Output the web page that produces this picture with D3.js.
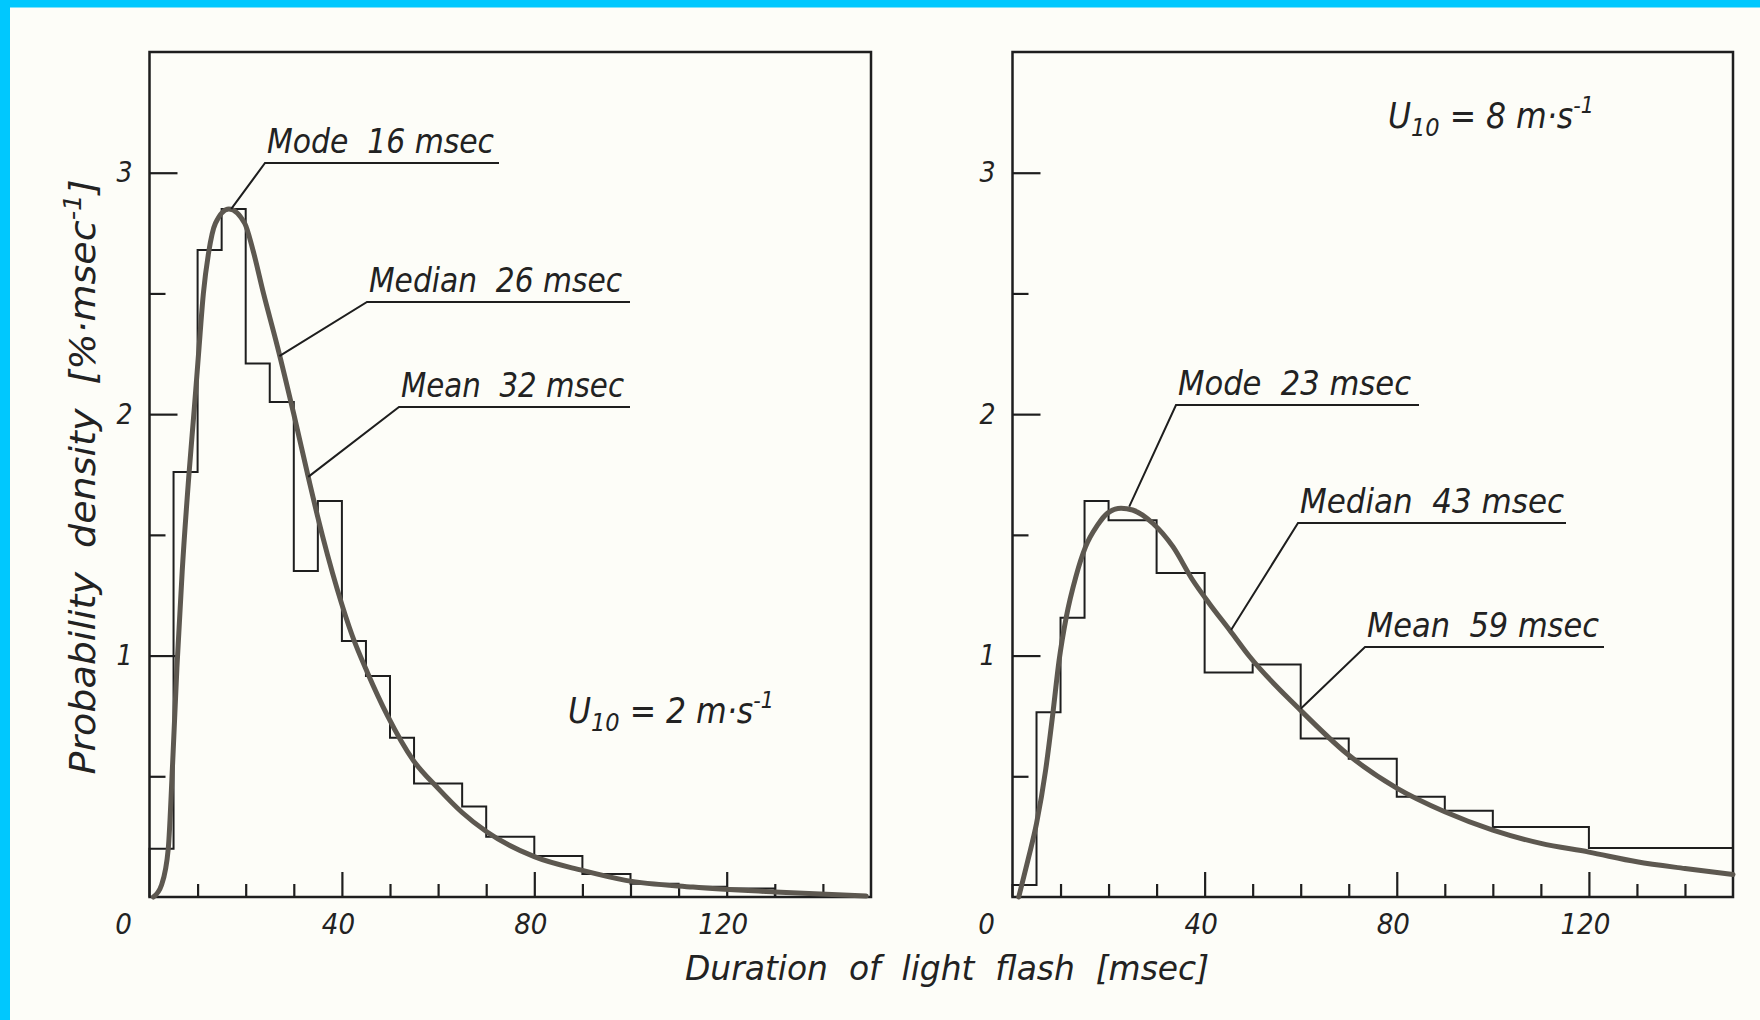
<!DOCTYPE html>
<html>
<head>
<meta charset="utf-8">
<script src="https://cdn.jsdelivr.net/npm/d3@7"></script>
<style>
    body { margin: 0; background: #fdfdf8; }
    svg text {
        font-family: "Liberation Sans Narrow", "DejaVu Sans Condensed", "DejaVu Sans", sans-serif;
        font-stretch: condensed;
        font-style: italic;
        fill: #222;
        white-space: pre;
    }
</style>
</head>
<body>
<svg id="chart"></svg>
<script>
// ticks
const xMinorTicks = [10, 20, 30, 50, 60, 70, 90, 100, 110, 130, 140]
const xMajorTicks = [40, 80, 120]
const yMajorTicks = [1, 2, 3]
const yMinorTicks = [0.5, 1.5, 2.5]

// U10 = 2 m/s : histogram (bin edges, density %/msec) and fitted curve
const calmEdges = [0, 5, 10, 15, 20, 25, 30, 35, 40, 45, 50, 55, 65, 70, 80, 90, 100, 110, 120, 130]
const calmDensity = [0.2, 1.76, 2.68, 2.85, 2.21, 2.05, 1.35, 1.64, 1.06, 0.915, 0.66, 0.47, 0.375, 0.25, 0.17, 0.095, 0.055, 0.042, 0.035]
const calmCurveX = [0.8, 2.5, 3.9, 4.8, 5.7, 6.8, 8.2, 9.3, 10.2, 11.2, 12.3, 13.7, 16.5, 19.8, 21.5, 23.7, 26.6, 30.0, 33.0, 34.9, 39.1, 42.2, 45.3, 49.5, 54.8, 60, 65, 70.1, 80, 90, 99, 113, 130, 149]
const calmCurveY = [0, 0.05, 0.2, 0.55, 0.95, 1.35, 1.75, 2.02, 2.25, 2.5, 2.67, 2.79, 2.85, 2.79, 2.68, 2.5, 2.28, 2.0, 1.74, 1.58, 1.27, 1.08, 0.93, 0.75, 0.567, 0.45, 0.35, 0.27, 0.167, 0.11, 0.069, 0.041, 0.021, 0.004]
const calmStats = ["Mode  16 msec", "Median  26 msec", "Mean  32 msec"]
const calmStatPoints = [[17, 2.85], [27, 2.24], [33, 1.74]]

// U10 = 8 m/s
const windyEdges = [0, 5, 10, 15, 20, 30, 40, 50, 60, 70, 80, 90, 100, 120, 150]
const windyDensity = [0.05, 0.765, 1.157, 1.64, 1.56, 1.342, 0.93, 0.963, 0.656, 0.573, 0.415, 0.357, 0.29, 0.203]
const windyCurveX = [1.3, 3.2, 5.0, 6.9, 8.4, 9.7, 11.2, 13.2, 15.2, 17.7, 19.8, 22.6, 25.0, 29.2, 33.4, 37.5, 41.0, 45.2, 49.4, 59.9, 69.9, 80, 90, 100, 110, 120, 130, 140, 150]
const windyCurveY = [0, 0.152, 0.304, 0.526, 0.76, 0.98, 1.16, 1.327, 1.45, 1.54, 1.59, 1.61, 1.603, 1.548, 1.451, 1.313, 1.215, 1.106, 0.995, 0.775, 0.589, 0.451, 0.353, 0.277, 0.222, 0.186, 0.146, 0.118, 0.093]
const windyStats = ["Mode  23 msec", "Median  43 msec", "Mean  59 msec"]
const windyStatPoints = [[24.3, 1.617], [45.5, 1.106], [60, 0.78]]

const width = 1760
const height = 1020
const plotTop = 52
const plotBottom = 897

// layout of each panel: frame and where the labels sit (pixels)
const panels = [
    {
        left: 149.5, right: 871,
        edges: calmEdges, density: calmDensity, cx: calmCurveX, cy: calmCurveY,
        stats: calmStats, points: calmStatPoints, speed: "2",
        notes: [[265, 499, 163, 227], [367, 630, 302, 253], [399, 630, 407, 223]],
        speedPos: [568, 723]
    },
    {
        left: 1012.5, right: 1733,
        edges: windyEdges, density: windyDensity, cx: windyCurveX, cy: windyCurveY,
        stats: windyStats, points: windyStatPoints, speed: "8",
        notes: [[1176, 1419, 405, 233], [1298, 1566, 523, 264], [1365, 1604, 647, 232]],
        speedPos: [1388, 128]
    }
]

const svg = d3.select("#chart")
    .attr("width", width)
    .attr("height", height)

svg.append("rect").attr("width", width).attr("height", height).attr("fill", "#fdfdf8")
svg.append("rect").attr("width", width).attr("height", 7.5).attr("fill", "#00c8fe")
svg.append("rect").attr("width", 10).attr("height", height).attr("fill", "#00c8fe")

const ink = "#1e1e1e"

panels.forEach(p => {
    const x = d3.scaleLinear().domain([0, 150]).range([p.left, p.right])
    const y = d3.scaleLinear().domain([0, 3.5]).range([plotBottom, plotTop])
    const g = svg.append("g")

    // Histogram outline
    const path = d3.path()
    path.moveTo(x(p.edges[0]), y(0))
    p.density.forEach((v, i) => {
        path.lineTo(x(p.edges[i]), y(v))
        path.lineTo(x(p.edges[i + 1]), y(v))
    })
    path.lineTo(x(p.edges[p.edges.length - 1]), y(0))
    g.append("path")
        .attr("d", path.toString())
        .attr("fill", "none")
        .attr("stroke", ink)
        .attr("stroke-width", 2)

    // Axes (ticks point inwards, frame drawn separately)
    const styleAxis = sel => {
        sel.select(".domain").remove()
        sel.selectAll("line").attr("stroke", ink).attr("stroke-width", 2.2)
        sel.selectAll("text").attr("fill", "#222").attr("font-family", null)
    }
    g.append("g")
        .attr("transform", `translate(0, ${plotBottom})`)
        .call(d3.axisBottom(x).tickValues(xMinorTicks).tickSize(-13).tickFormat(""))
        .call(styleAxis)
    g.append("g")
        .attr("transform", `translate(0, ${plotBottom})`)
        .call(d3.axisBottom(x).tickValues(xMajorTicks).tickSize(-25).tickPadding(16).tickFormat(d3.format("d")))
        .call(styleAxis)
        .call(a => a.selectAll("text").attr("font-size", 29).attr("dx", -4))
    g.append("g")
        .attr("transform", `translate(${p.left}, 0)`)
        .call(d3.axisLeft(y).tickValues(yMinorTicks).tickSize(-16).tickFormat(""))
        .call(styleAxis)
    g.append("g")
        .attr("transform", `translate(${p.left}, 0)`)
        .call(d3.axisLeft(y).tickValues(yMajorTicks).tickSize(-28).tickPadding(17).tickFormat(d3.format("d")))
        .call(styleAxis)
        .call(a => a.selectAll("text").attr("font-size", 28))
    g.append("text")
        .attr("x", x(0) - 26)
        .attr("y", plotBottom + 16)
        .attr("dy", "0.71em")
        .attr("text-anchor", "middle")
        .attr("font-size", 29)
        .text("0")

    // Frame
    g.append("rect")
        .attr("x", x(0))
        .attr("y", y(3.5))
        .attr("width", x(150) - x(0))
        .attr("height", y(0) - y(3.5))
        .attr("fill", "none")
        .attr("stroke", ink)
        .attr("stroke-width", 2.5)

    // Fitted density curve
    const line = d3.line()
        .x(d => x(d[0]))
        .y(d => y(d[1]))
        .curve(d3.curveMonotoneX)
    g.append("path")
        .attr("d", line(d3.zip(p.cx, p.cy)))
        .attr("fill", "none")
        .attr("stroke", "#5d5850")
        .attr("stroke-width", 5)
        .attr("stroke-linecap", "round")

    // Mode / median / mean labels with leader lines
    p.stats.forEach((s, i) => {
        const [x0, x1, uy, len] = p.notes[i]
        const pt = p.points[i]
        g.append("polyline")
            .attr("points", `${x(pt[0])},${y(pt[1])} ${x0},${uy} ${x1},${uy}`)
            .attr("fill", "none")
            .attr("stroke", ink)
            .attr("stroke-width", 2)
        g.append("text")
            .attr("x", x0 + 2)
            .attr("y", uy - 10)
            .attr("font-size", 34)
            .attr("textLength", len)
            .attr("lengthAdjust", "spacingAndGlyphs")
            .text(s)
    })

    // Wind speed label
    const t = g.append("text")
        .attr("x", p.speedPos[0])
        .attr("y", p.speedPos[1])
        .attr("font-size", 35)
    t.append("tspan").text("U")
    t.append("tspan").attr("font-size", 25).attr("dy", 8).text("10")
    t.append("tspan").attr("dy", -8).text(" = " + p.speed + " m·s")
    t.append("tspan").attr("font-size", 23).attr("dy", -15).text("-1")
})

// Axis titles
svg.append("text")
    .attr("x", 947)
    .attr("y", 980)
    .attr("text-anchor", "middle")
    .attr("font-size", 34)
    .attr("textLength", 524)
    .attr("lengthAdjust", "spacingAndGlyphs")
    .text("Duration  of  light  flash  [msec]")

const yt = svg.append("text")
    .attr("transform", "translate(95, 477) rotate(-90)")
    .attr("text-anchor", "middle")
    .attr("font-size", 35)
    .attr("textLength", 595)
    .attr("lengthAdjust", "spacingAndGlyphs")
yt.append("tspan").text("Probability  density  [%·msec")
yt.append("tspan").attr("font-size", 24).attr("dy", -14).text("-1")
yt.append("tspan").attr("dy", 14).text("]")
</script>
</body>
</html>
